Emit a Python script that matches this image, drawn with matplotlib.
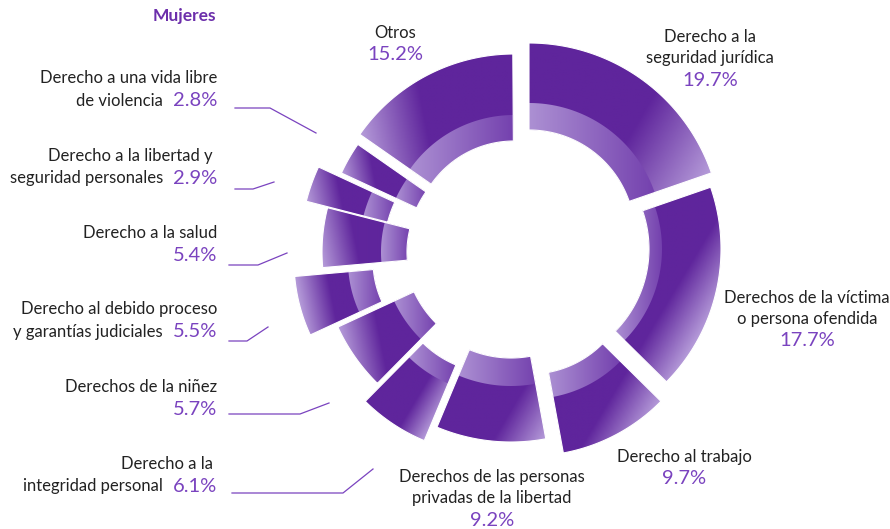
import matplotlib
matplotlib.use('Agg')
import matplotlib.pyplot as plt
import numpy as np
from matplotlib.colors import LinearSegmentedColormap
from matplotlib.patches import PathPatch
from matplotlib.path import Path

plt.rcParams['font.family'] = ['Lato', 'DejaVu Sans']

# data, clockwise from 12 o'clock
CATEGORIES = [
    'Derecho a la\nseguridad jurídica',
    'Derechos de la víctima\no persona ofendida',
    'Derecho al trabajo',
    'Derechos de las personas\nprivadas de la libertad',
    'Derecho a la\nintegridad personal',
    'Derechos de la niñez',
    'Derecho al debido proceso\ny garantías judiciales',
    'Derecho a la salud',
    'Derecho a la libertad y\nseguridad personales',
    'Derecho a una vida libre\nde violencia',
    'Otros',
]
SHARES = [19.7, 17.7, 9.7, 9.2, 6.1, 5.7, 5.5, 5.4, 2.9, 2.8, 15.2]
TITLE = 'Mujeres'

# layout / style (pixel units, y down)
CENTER = (515, 250)
SHIFT = [(14, -14), (17, -1), (15, 22), (-4, 0), (-19, 19), (-2, -4),
         (-45, 11), (-15, 2), (-15, 1), (-3, 2), (-1, -8)]
R_IN = [106, 117, 102, 108, 104, 109, 97, 93, 116, 105, 101]
R_MID = [133, 130, 127, 136, 124, 131, 122, 119, 141, 128, 127]
R_OUT = [193, 189, 184, 192, 186, 193, 176, 178, 200, 188, 188]
# direction (x, y down) in which the outer band turns light
SHEEN = [(1, 0.6)] * 5 + [(-1, 0.2)] * 6

DARK = '#5f259c'
LIGHT = '#b59bd9'
INNER_LIGHT = '#ac90d3'
INNER_DARK = '#7441ae'
PCT_COLOR = '#7a43bf'
TEXT_COLOR = '#222222'

CMAP_OUTER = LinearSegmentedColormap.from_list('o', [(0, DARK), (0.6, DARK), (1, LIGHT)])
CMAP_INNER = LinearSegmentedColormap.from_list('i', [(0, INNER_LIGHT), (1, INNER_DARK)])

# label placement
TOP_LABELS = {  # index: (x center, y first line)
    0: (710, 37), 1: (807, 298), 2: (684, 457), 3: (492, 477), 10: (395, 33),
}
LEFT_LABELS = {  # index: (y first line, right edge of first line)
    9: (78, 217), 8: (156, 213), 7: (233, 217), 6: (309, 217), 5: (387, 217), 4: (464, 213),
}
LEADERS = {
    9: [(235, 108), (270, 108), (316, 133)],
    8: [(235, 189), (253, 189), (274, 182)],
    7: [(229, 265), (258, 265), (287, 253)],
    6: [(229, 341), (247, 341), (268, 327)],
    5: [(229, 414), (300, 414), (329, 403)],
    4: [(232, 493), (343, 493), (373, 469)],
}


def sector_path(cx, cy, r0, r1, a0, a1, n=90):
    t = np.radians(np.linspace(a0, a1, n))
    outer = np.column_stack([cx + r1 * np.cos(t), cy - r1 * np.sin(t)])
    inner = np.column_stack([cx + r0 * np.cos(t[::-1]), cy - r0 * np.sin(t[::-1])])
    verts = np.vstack([outer, inner, outer[:1]])
    codes = [Path.MOVETO] + [Path.LINETO] * (len(verts) - 2) + [Path.CLOSEPOLY]
    return Path(verts, codes)


def gradient_fill(ax, path, cmap, direction):
    patch = PathPatch(path, facecolor='none', edgecolor='none')
    ax.add_patch(patch)
    x0, y0 = path.vertices.min(axis=0)
    x1, y1 = path.vertices.max(axis=0)
    dx, dy = direction
    proj = path.vertices[:, 0] * dx + path.vertices[:, 1] * dy
    xs = np.linspace(x0, x1, 120)
    ys = np.linspace(y0, y1, 120)
    X, Y = np.meshgrid(xs, ys)
    val = np.clip((X * dx + Y * dy - proj.min()) / (proj.max() - proj.min()), 0, 1)
    im = ax.imshow(val, cmap=cmap, vmin=0, vmax=1, extent=(x0, x1, y1, y0),
                   aspect='auto', interpolation='bilinear', origin='upper', zorder=2)
    im.set_clip_path(patch)


fig = plt.figure(figsize=(8.9, 5.29), dpi=100)
ax = fig.add_axes([0, 0, 1, 1])

angles = 90 - np.concatenate([[0], np.cumsum(SHARES)]) * 3.6
for i, share in enumerate(SHARES):
    a0, a1 = angles[i], angles[i + 1]
    cx = CENTER[0] + SHIFT[i][0]
    cy = CENTER[1] + SHIFT[i][1]
    full = sector_path(cx, cy, R_IN[i], R_OUT[i], a0, a1)
    gradient_fill(ax, full, CMAP_OUTER, SHEEN[i])
    band = sector_path(cx, cy, R_IN[i], R_MID[i], a0, a1)
    gradient_fill(ax, band, CMAP_INNER, (1, 0))
    ax.add_patch(PathPatch(full, facecolor='none', edgecolor='white', linewidth=0.8, zorder=3))

step = 21
for i, (x, y) in TOP_LABELS.items():
    lines = CATEGORIES[i].split('\n')
    for k, line in enumerate(lines):
        ax.text(x, y + k * step, line, ha='center', va='center', fontsize=12, color=TEXT_COLOR)
    ax.text(x, y + (len(lines) - 1) * step + 22, f'{SHARES[i]:.1f}%', ha='center', va='center',
            fontsize=14.5, color=PCT_COLOR)

left_step = 22.5
for i, (y, right) in LEFT_LABELS.items():
    lines = CATEGORIES[i].split('\n')
    ax.text(right, y, lines[0], ha='right', va='center', fontsize=12, color=TEXT_COLOR)
    if len(lines) > 1:
        ax.text(163, y + left_step, lines[1], ha='right', va='center', fontsize=12, color=TEXT_COLOR)
    ax.text(217, y + left_step, f'{SHARES[i]:.1f}%', ha='right', va='center', fontsize=14.5,
            color=PCT_COLOR)

for pts in LEADERS.values():
    xs, ys = zip(*pts)
    ax.plot(xs, ys, color=PCT_COLOR, linewidth=0.9, zorder=1)

ax.text(184, 16, TITLE, ha='center', va='center', fontsize=12.5, fontweight='bold', color='#6c2fab')

ax.set_xlim(0, 890)
ax.set_ylim(529, 0)
ax.axis('off')
fig.savefig('out.png', dpi=100, facecolor='white')
